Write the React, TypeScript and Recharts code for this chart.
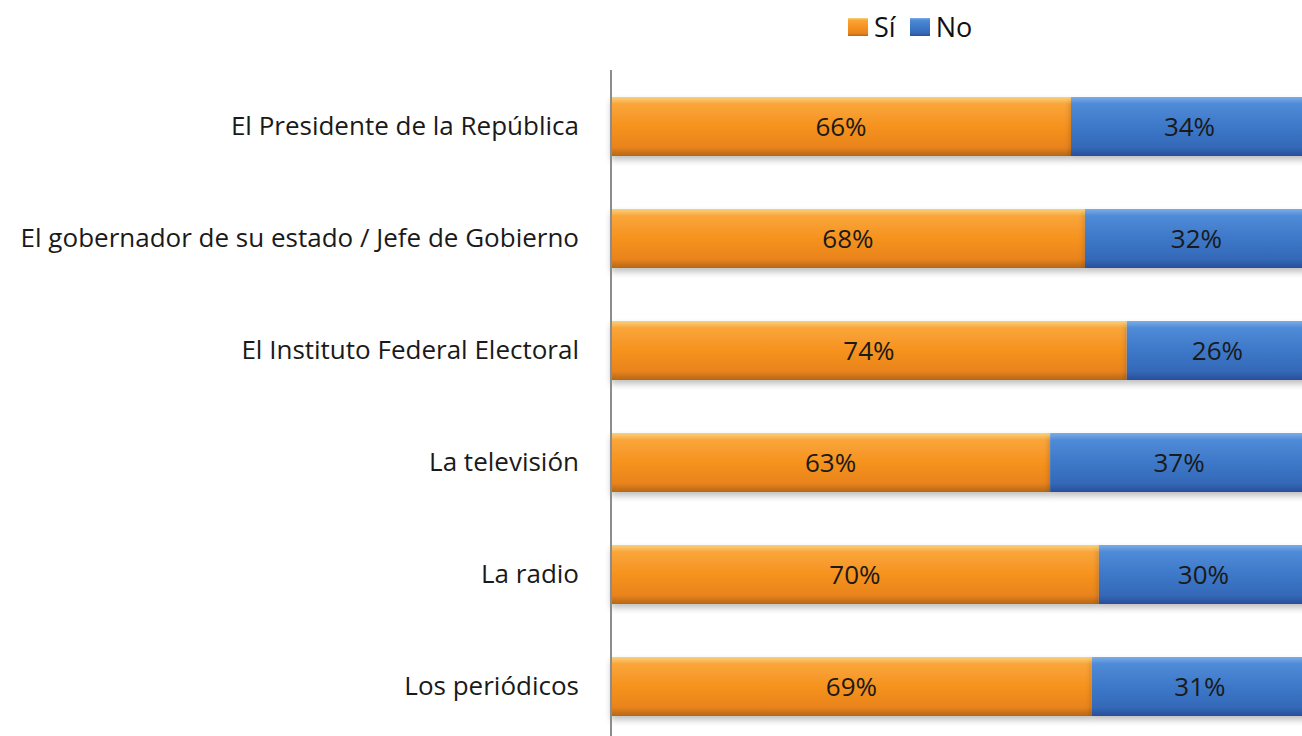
import { BarChart, Bar, XAxis, YAxis, LabelList } from 'recharts';

const categories = [
    'El Presidente de la República',
    'El gobernador de su estado / Jefe de Gobierno',
    'El Instituto Federal Electoral',
    'La televisión',
    'La radio',
    'Los periódicos',
];
const si = [66, 68, 74, 63, 70, 69];
const no = [34, 32, 26, 37, 30, 31];

const FONT = '"Open Sans", "Noto Sans", sans-serif';

const data = categories.map((name, i) => ({ name, si: si[i], no: no[i] }));

const legendItems = [
    { label: 'Sí', fill: 'url(#gradSi)' },
    { label: 'No', fill: 'url(#gradNo)' },
];

function TopLegend() {
    return (
        <div
            style={{
                position: 'absolute',
                left: 848,
                top: 8,
                display: 'flex',
                alignItems: 'center',
                gap: 14,
                fontFamily: FONT,
                fontSize: 27,
                color: '#111',
            }}
        >
            {legendItems.map((it) => (
                <div key={it.label} style={{ display: 'flex', alignItems: 'center', gap: 6 }}>
                    <svg width={20} height={18}>
                        <rect x={0} y={0} width={20} height={18} fill={it.fill} />
                    </svg>
                    <span>{it.label}</span>
                </div>
            ))}
        </div>
    );
}

export default function App() {
    return (
        <div style={{ position: 'fixed', left: 0, top: 0, width: 1302, height: 736, overflow: 'hidden', background: '#fff' }}>
            <BarChart
                width={1308}
                height={742}
                data={data}
                layout="vertical"
                margin={{ top: 70, right: 0, bottom: 0, left: 0 }}
                barCategoryGap={0}
            >
                <defs>
                    <linearGradient id="gradSi" x1="0" y1="0" x2="0" y2="1">
                        <stop offset="0%" stopColor="#fbd27a" />
                        <stop offset="12%" stopColor="#f9a53a" />
                        <stop offset="50%" stopColor="#f6921f" />
                        <stop offset="85%" stopColor="#e9841c" />
                        <stop offset="100%" stopColor="#b66716" />
                    </linearGradient>
                    <linearGradient id="gradNo" x1="0" y1="0" x2="0" y2="1">
                        <stop offset="0%" stopColor="#7aaeea" />
                        <stop offset="12%" stopColor="#4f8ad6" />
                        <stop offset="50%" stopColor="#3d78c9" />
                        <stop offset="85%" stopColor="#3469b8" />
                        <stop offset="100%" stopColor="#2a4f98" />
                    </linearGradient>
                    <filter id="shadow" x="-5%" y="-10%" width="110%" height="140%">
                        <feDropShadow dx="0" dy="4" stdDeviation="3" floodColor="#000" floodOpacity="0.25" />
                    </filter>
                </defs>
                <XAxis type="number" domain={[0, 100]} hide />
                <YAxis
                    type="category"
                    dataKey="name"
                    width={611}
                    axisLine={{ stroke: '#8c8c8c', strokeWidth: 2 }}
                    tickLine={false}
                    tickMargin={26}
                    tick={{ fontFamily: FONT, fontSize: 26, fill: '#1a1a1a' }}
                />
                <Bar dataKey="si" stackId="a" barSize={59} fill="url(#gradSi)" filter="url(#shadow)" isAnimationActive={false}>
                    <LabelList
                        dataKey="si"
                        position="center"
                        formatter={(v: any) => `${v}%`}
                        style={{ fontFamily: FONT, fontSize: 26, fill: '#1a1a1a' }}
                    />
                </Bar>
                <Bar dataKey="no" stackId="a" barSize={59} fill="url(#gradNo)" filter="url(#shadow)" isAnimationActive={false}>
                    <LabelList
                        dataKey="no"
                        position="center"
                        formatter={(v: any) => `${v}%`}
                        style={{ fontFamily: FONT, fontSize: 26, fill: '#1a1a1a' }}
                    />
                </Bar>
            </BarChart>
            <TopLegend />
        </div>
    );
}
